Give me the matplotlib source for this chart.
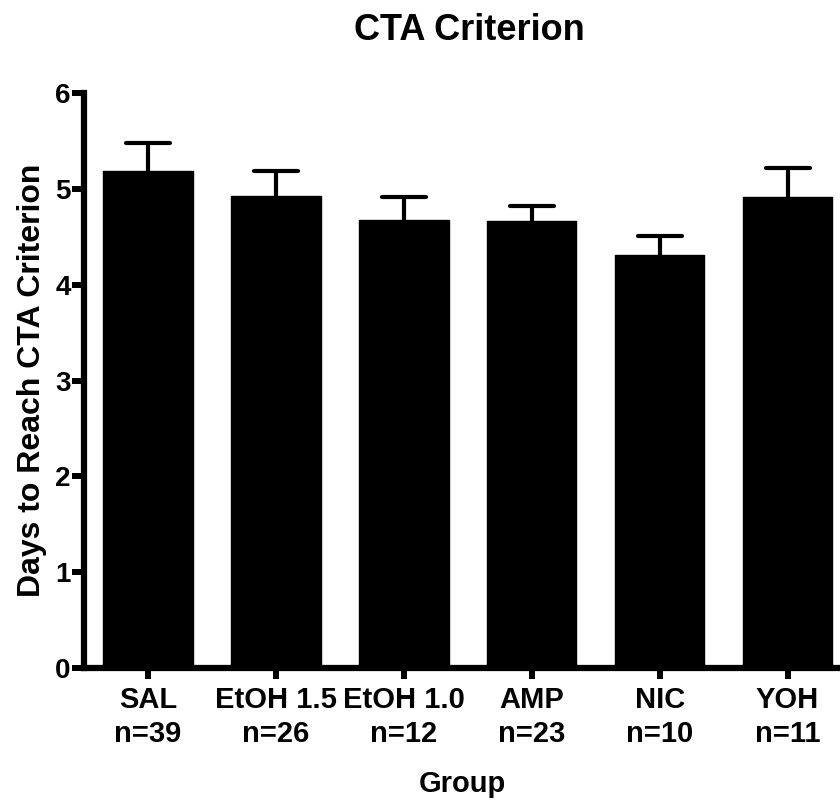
import matplotlib as mpl
import matplotlib.pyplot as plt

mpl.rcParams['font.family'] = ['Liberation Sans', 'DejaVu Sans']
mpl.rcParams['font.weight'] = 'bold'

groups = ['SAL', 'EtOH 1.5', 'EtOH 1.0', 'AMP', 'NIC', 'YOH']
n_sizes = [39, 26, 12, 23, 10, 11]
means = [5.19, 4.93, 4.68, 4.66, 4.31, 4.92]
sems = [0.29, 0.26, 0.24, 0.16, 0.20, 0.30]

fig = plt.figure(figsize=(8.4, 8.05), dpi=100)
ax = fig.add_axes([0.1, 0.170, 0.90, 0.7145])

x = list(range(len(groups)))
tops = [m + s for m, s in zip(means, sems)]
cap = 0.172  # half width of the caps, in bar units

ax.bar(x, means, width=0.70, color='black', edgecolor='black', linewidth=1, joinstyle='round', zorder=2)
# upper error bars only
ax.vlines(x, means, tops, colors='black', linewidth=3, zorder=1)
ax.hlines(tops, [i - cap for i in x], [i + cap for i in x], colors='black', linewidth=3,
          capstyle='round', zorder=1)

ax.set_xlim(-0.5, 5.41)
ax.set_ylim(0, 6)
ax.set_yticks([0, 1, 2, 3, 4, 5, 6])
ax.set_xticks(x)
ax.set_xticklabels([g + '\nn=' + str(n) for g, n in zip(groups, n_sizes)], fontsize=21, fontweight='bold', linespacing=1.25)
ax.tick_params(axis='y', labelsize=20, width=4.3, length=8.5, pad=1)
ax.tick_params(axis='x', width=4.3, length=8, pad=5)

for side in ['top', 'right']:
    ax.spines[side].set_visible(False)
for side in ['left', 'bottom']:
    ax.spines[side].set_linewidth(4.5)

ax.set_ylabel('Days to Reach CTA Criterion', fontsize=23, fontweight='bold', labelpad=6)
ax.set_xlabel('Group', fontsize=21, fontweight='bold', labelpad=16)
ax.set_title('CTA Criterion', fontsize=26, fontweight='bold', pad=38, x=0.51)

fig.savefig('out.png', dpi=100)
